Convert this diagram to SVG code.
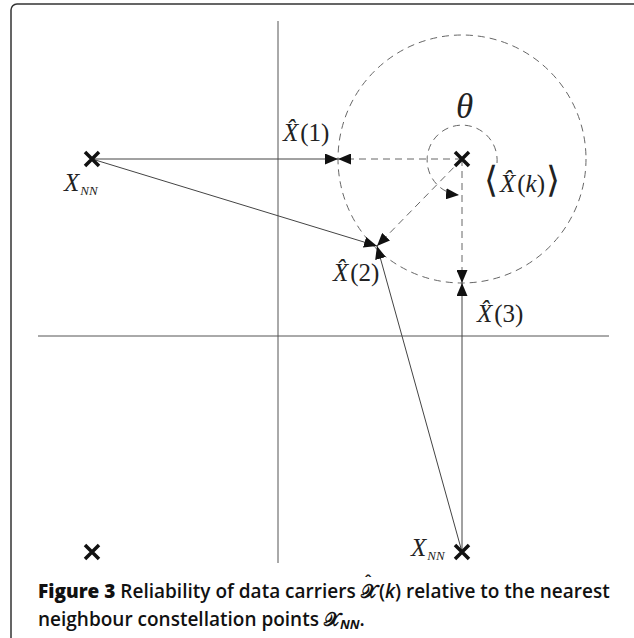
<svg xmlns="http://www.w3.org/2000/svg" width="634" height="638" viewBox="0 0 634 638">
<style>
.axis{stroke:#555;stroke-width:1;fill:none}
.solid{stroke:#444;stroke-width:1;fill:none}
.dash{stroke:#666;stroke-width:1;fill:none;stroke-dasharray:7,5}
.cross{stroke:#111;stroke-width:3.5;stroke-linecap:butt}
.lbl{font-family:"Liberation Serif",serif;font-size:25px;fill:#222}
.sub{font-size:13px;font-style:italic}
.cap{font-family:"Open Sans","Noto Sans",sans-serif;font-size:19px;fill:#111;font-weight:600}
.scr{font-family:"DejaVu Sans",sans-serif;font-weight:700}
</style>
<defs>
<marker id="ah" viewBox="0 0 13 11" refX="13" refY="5.5" markerWidth="13" markerHeight="11" markerUnits="userSpaceOnUse" orient="auto">
<path d="M0,0 L13,5.5 L0,11 z" fill="#111"/>
</marker>
</defs>
<rect x="11" y="4" width="640" height="700" rx="6" fill="none" stroke="#333" stroke-width="1.5"/>
<g id="axes">
<line class="axis" x1="278" y1="21" x2="278" y2="563"/>
<line class="axis" x1="38" y1="336" x2="609" y2="336"/>
</g>
<g id="connectors">
<circle class="dash" cx="462" cy="159" r="124"/>
<path class="dash" d="M497,163 A35,35 0 1 0 459,195" marker-end="url(#ah)"/>
<line class="dash" x1="462" y1="159" x2="338" y2="159" marker-end="url(#ah)"/>
<line class="dash" x1="462" y1="159" x2="377" y2="246" marker-end="url(#ah)"/>
<line class="dash" x1="462" y1="159" x2="462" y2="283" marker-end="url(#ah)"/>
<line class="solid" x1="92" y1="159" x2="338" y2="159" marker-end="url(#ah)"/>
<line class="solid" x1="92" y1="159" x2="377" y2="246" marker-end="url(#ah)"/>
<line class="solid" x1="462" y1="552" x2="377" y2="246" marker-end="url(#ah)"/>
<line class="solid" x1="462" y1="552" x2="462" y2="283" marker-end="url(#ah)"/>
</g>
<g id="center">
<path class="cross" d="M455,152 L469,166 M469,152 L455,166"/>
</g>
<g id="xnn-left">
<path class="cross" d="M85,152 L99,166 M99,152 L85,166"/>
<text class="lbl" x="64" y="191" font-style="italic">X<tspan class="sub" dx="1" dy="4">NN</tspan></text>
</g>
<g id="xnn-bottom-left">
<path class="cross" d="M85,545 L99,559 M99,545 L85,559"/>
</g>
<g id="xnn-bottom">
<path class="cross" d="M455,545 L469,559 M469,545 L455,559"/>
<text class="lbl" x="411" y="556" font-style="italic">X<tspan class="sub" dx="1" dy="4">NN</tspan></text>
</g>
<g id="labels">
<text class="lbl" x="283" y="141"><tspan font-style="italic">X̂</tspan><tspan dx="2">(1)</tspan></text>
<text class="lbl" x="333" y="281"><tspan font-style="italic">X̂</tspan><tspan dx="2">(2)</tspan></text>
<text class="lbl" x="477" y="322"><tspan font-style="italic">X̂</tspan><tspan dx="2">(3)</tspan></text>
<text class="lbl" x="456" y="118" style="font-size:35px;font-style:italic">θ</text>
<text class="lbl" x="484" y="192"><tspan font-size="36">⟨</tspan><tspan font-style="italic" dx="2">X̂</tspan><tspan dx="2">(</tspan><tspan font-style="italic">k</tspan>)<tspan font-size="36" dx="1">⟩</tspan></text>
</g>
<g id="caption">
<text class="cap" x="38" y="598"><tspan font-weight="800">Figure 3</tspan> Reliability of data carriers <tspan class="scr">𝒳</tspan><tspan font-size="16" dx="-12" dy="-11">ˆ</tspan><tspan dx="7" dy="11">(</tspan><tspan font-style="italic">k</tspan>) relative to the nearest</text>
<text class="cap" x="38" y="626">neighbour constellation points <tspan class="scr">𝒳</tspan><tspan font-size="13" font-weight="700" font-style="italic" dy="3">NN</tspan><tspan dy="-3">.</tspan></text>
</g>
</svg>
